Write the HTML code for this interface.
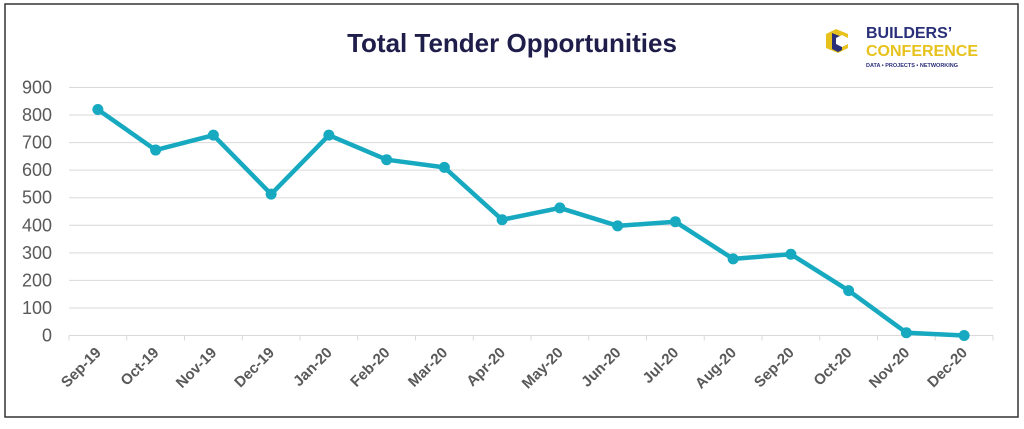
<!DOCTYPE html>
<html><head><meta charset="utf-8"><style>
body{margin:0;width:1024px;height:424px;background:#fff;overflow:hidden;font-family:"Liberation Sans",sans-serif}
</style></head><body>
<svg width="1024" height="424">
<rect x="5" y="4" width="1013" height="413" fill="#fff" stroke="#333" stroke-width="1.5"/>
<text x="512" y="52" text-anchor="middle" font-size="26" font-weight="bold" fill="#1f1d4a">Total Tender Opportunities</text>
<g>
<polygon points="826,34 836,29 848,34 848,48 838,53 826,48" fill="#e8c21c"/>
<polygon points="832,33 842,37 842,50 838,52 832,49" fill="#2a2f7a"/>
<polygon points="836,38 842,35 848,38 848,44 842,47 836,44" fill="#fff"/>
<text x="866" y="38" font-size="16" font-weight="bold" fill="#2a2f7a">BUILDERS’</text>
<text x="866" y="56" font-size="16" font-weight="bold" fill="#e8c21c">CONFERENCE</text>
<text x="866" y="67" font-size="5.5" font-weight="bold" fill="#2a2f7a">DATA • PROJECTS • NETWORKING</text>
</g>
<g id="grid"></g><g id="axes"></g><g id="series"></g>
</svg>
<script>
const categories=["Sep-19","Oct-19","Nov-19","Dec-19","Jan-20","Feb-20","Mar-20","Apr-20","May-20","Jun-20","Jul-20","Aug-20","Sep-20","Oct-20","Nov-20","Dec-20"];
const values=[820,673,727,513,727,638,610,420,463,398,413,278,295,163,10,0];
const yTicks=[0,100,200,300,400,500,600,700,800,900];
const NS="http://www.w3.org/2000/svg";
const L=69,R=993,Y0=335.5,Y9=87.5,MAX=900;
const bw=(R-L)/categories.length;
function x(i){return L+bw*(i+0.5);}
function y(v){return Y0-(Y0-Y9)*v/MAX;}
function mk(t,a,p){const e=document.createElementNS(NS,t);for(const k in a)e.setAttribute(k,a[k]);p.appendChild(e);return e;}
const grid=document.getElementById('grid'),axes=document.getElementById('axes'),series=document.getElementById('series');
yTicks.forEach(v=>{
 if(v>0){const g=mk('line',{x1:L,x2:R,y1:y(v),y2:y(v),stroke:'#d9d9d9','stroke-width':1},grid);
 
 }
 const t=mk('text',{x:52,y:y(v)+6,'text-anchor':'end','font-size':18,fill:'#595959'},axes);t.textContent=v;
 
 
});
const ax=mk('line',{x1:L,x2:R,y1:Y0,y2:Y0,stroke:'#d9d9d9','stroke-width':1},axes);


for(let i=0;i<=categories.length;i++){const tk=mk('line',{x1:L+bw*i,x2:L+bw*i,y1:Y0,y2:Y0+5,stroke:'#d9d9d9'},axes);
 
 }
categories.forEach((c,i)=>{
 const tx=x(i)+4,ty=Y0+18;
 const t=mk('text',{x:tx,y:ty,'text-anchor':'end','font-size':15,'font-weight':'bold',fill:'#595959',transform:`rotate(-45 ${tx} ${ty})`},axes);
 t.textContent=c;
 
 
});
const pl=mk('polyline',{points:values.map((v,i)=>x(i)+','+y(v)).join(' '),fill:'none',stroke:'#16a9c0','stroke-width':4.5,'stroke-linejoin':'round'},series);


values.forEach((v,i)=>{const c=mk('circle',{cx:x(i),cy:y(v),r:5.5,fill:'#16a9c0'},series);
 
 });
</script>
</body></html>
